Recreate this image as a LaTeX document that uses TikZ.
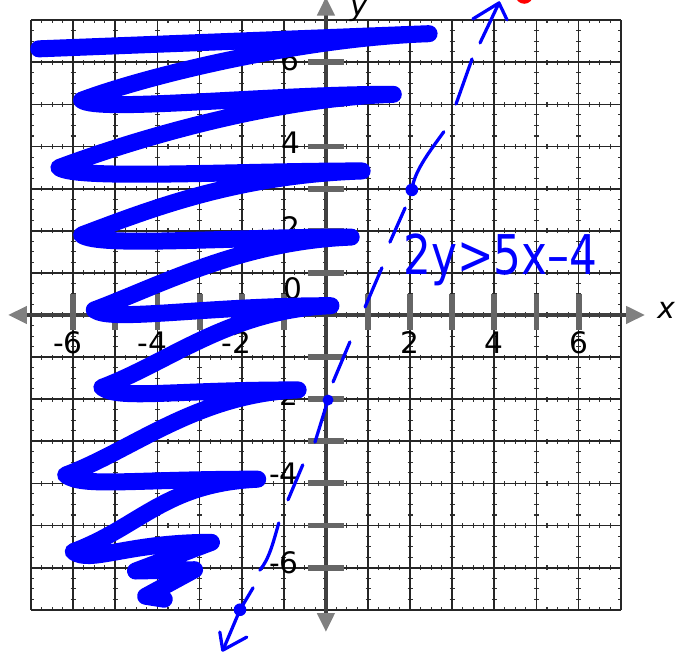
\documentclass[tikz,border=0pt]{standalone}
\usepackage{fontspec}
\setmainfont{DejaVu Sans}
\usepackage{graphicx}
\usetikzlibrary{arrows.meta}

\begin{document}
\begin{tikzpicture}[
  gridline/.style={black!85, line width=1.2pt},
  minortick/.style={black!80, line width=0.7pt, dash pattern=on 1.2mm off 8.8mm, dash phase=0.6mm},
  axisline/.style={gray!50!black, line width=3pt, {Triangle[length=4.5mm,width=4mm,color=gray]}-{Triangle[length=4.5mm,width=4mm,color=gray]}},
  axistick/.style={gray!80!black, line width=1.4mm},
  ticklabel/.style={font=\fontsize{20}{24}\selectfont, inner sep=0pt},
  axislabel/.style={font=\fontsize{20}{24}\selectfont\itshape, inner sep=0pt},
  scribble/.style={blue, line width=11.5pt, line cap=round, line join=round},
  pen/.style={blue, line width=2.2pt, line cap=round, line join=round},
]
\useasboundingbox (-7.74,-8.05) rectangle (8.29,7.48);
\draw[minortick, step=0.25] (-7,-7) grid (7,7);
\draw[gridline, step=1] (-7,-7) grid (7,7);
\draw[axisline] (-7.55,0) -- (7.58,0);
\draw[axisline] (0,-7.53) -- (0,7.56);
\draw[axistick] (-6,-0.35) -- (-6,0.5) (-5,-0.35) -- (-5,0.5) (-4,-0.35) -- (-4,0.5)
  (-3,-0.35) -- (-3,0.5) (-2,-0.35) -- (-2,0.5) (-1,-0.35) -- (-1,0.5)
  (1,-0.35) -- (1,0.5) (2,-0.35) -- (2,0.5) (3,-0.35) -- (3,0.5)
  (4,-0.35) -- (4,0.5) (5,-0.35) -- (5,0.5) (6,-0.35) -- (6,0.5);
\draw[axistick] (-0.42,-6) -- (0.42,-6) (-0.42,-5) -- (0.42,-5) (-0.42,-4) -- (0.42,-4)
  (-0.42,-3) -- (0.42,-3) (-0.42,-2) -- (0.42,-2) (-0.42,-1) -- (0.42,-1)
  (-0.42,1) -- (0.42,1) (-0.42,2) -- (0.42,2) (-0.42,3) -- (0.42,3)
  (-0.42,4) -- (0.42,4) (-0.42,5) -- (0.42,5) (-0.42,6) -- (0.42,6);

\node[ticklabel, anchor=base] (xm6) at (-6,-0.92) {\llap{-}6};
\node[ticklabel, anchor=base] (xm4) at (-4,-0.92) {\llap{-}4};
\node[ticklabel, anchor=base] (xm2) at (-2,-0.92) {\llap{-}2};
\node[ticklabel, anchor=base] (xp2) at (2,-0.92) {2};
\node[ticklabel, anchor=base] (xp4) at (4,-0.92) {4};
\node[ticklabel, anchor=base] (xp6) at (6,-0.92) {6};
\node[ticklabel, anchor=base east] (yp6) at (-0.62,5.8) {6};
\node[ticklabel, anchor=base east] (yp4) at (-0.6,3.84) {4};
\node[ticklabel, anchor=base east] (yp2) at (-0.6,1.82) {2};
\node[ticklabel, anchor=base east] (y0) at (-0.56,0.37) {0};
\node[ticklabel, anchor=base east] (ym2) at (-0.64,-2.15) {-2};
\node[ticklabel, anchor=base east] (ym4) at (-0.64,-4.02) {-4};
\node[ticklabel, anchor=base east] (ym6) at (-0.64,-6.14) {-6};
\node[axislabel] (xlabel) at (8.08,0.12) {x};
\node[axislabel, anchor=base] (ylabel) at (0.78,7.12) {y};

\draw[scribble] (-6.82,6.32) -- (2.45,6.68)
  .. controls +(-3,-0.1) and +(1.6,0.6) .. (-5.8,5.1) .. controls +(0.4,-0.3) and +(-3,0) .. (1.6,5.24)
  .. controls +(-3,-0.1) and +(1.6,0.6) .. (-6.34,3.5) .. controls +(0.4,-0.3) and +(-3,0) .. (0.86,3.42)
  .. controls +(-3,-0.1) and +(1.6,0.6) .. (-5.8,1.9) .. controls +(0.4,-0.3) and +(-3,0) .. (0.6,1.85)
  .. controls +(-2.6,-0.1) and +(1.6,0.6) .. (-5.5,0.12) .. controls +(0.4,-0.3) and +(-3,0) .. (0.12,0.22)
  .. controls +(-2.4,-0.1) and +(1.6,0.6) .. (-5.32,-1.72) .. controls +(0.4,-0.3) and +(-3,0) .. (-0.66,-1.78)
  .. controls +(-2.4,-0.1) and +(1.6,0.6) .. (-6.18,-3.8) .. controls +(0.4,-0.3) and +(-3,0) .. (-1.62,-3.9)
  .. controls +(-2.2,-0.1) and +(1.6,0.6) .. (-6.0,-5.62) .. controls +(0.4,-0.3) and +(-2,0) .. (-2.72,-5.4)
  -- (-4.52,-6.08) -- (-3.12,-6.05) -- (-4.28,-6.68) -- (-3.84,-6.75);

\coordinate (dotA) at (2.04,2.97);
\coordinate (dotB) at (0.05,-2.02);
\coordinate (dotC) at (-2.04,-7.0);
\fill[blue] (dotA) circle (0.15);
\fill[blue] (dotB) circle (0.13);
\fill[blue] (dotC) circle (0.15);
\draw[pen] (3.66,6.46) -- (4.11,7.41);
\draw[pen] (3.49,7.03) -- (4.11,7.41) -- (4.30,7.01);
\draw[pen] (3.09,5.01) -- (3.47,6.08);
\draw[pen] (dotA) .. controls (2.10,3.40) and (2.40,3.80) .. (2.80,4.35);
\draw[pen] (1.52,1.73) -- (1.88,2.54);
\draw[pen] (0.93,0.19) -- (1.33,1.12);
\draw[pen] (0.17,-1.59) -- (0.57,-0.64);
\draw[pen] (dotB) -- (-0.26,-3.02);
\draw[pen] (-0.55,-3.56) -- (-0.90,-4.39);
\draw[pen] (-1.12,-4.94) .. controls (-1.25,-5.4) and (-1.35,-5.8) .. (-1.57,-6.06);
\draw[pen] (-1.73,-6.48) -- (dotC);
\draw[pen] (dotC) -- (-2.42,-7.90);
\draw[pen] (-2.52,-7.53) -- (-2.45,-7.96) -- (-1.88,-7.65);
\fill[red] (4.71,7.60) circle (0.21);

\node[text=blue, anchor=base west, inner sep=0pt] (ineq) at (1.83,0.97) {\scalebox{0.8}[1]{\fontsize{37}{40}\selectfont 2y>5x\textendash 4}};
\end{tikzpicture}
\end{document}
